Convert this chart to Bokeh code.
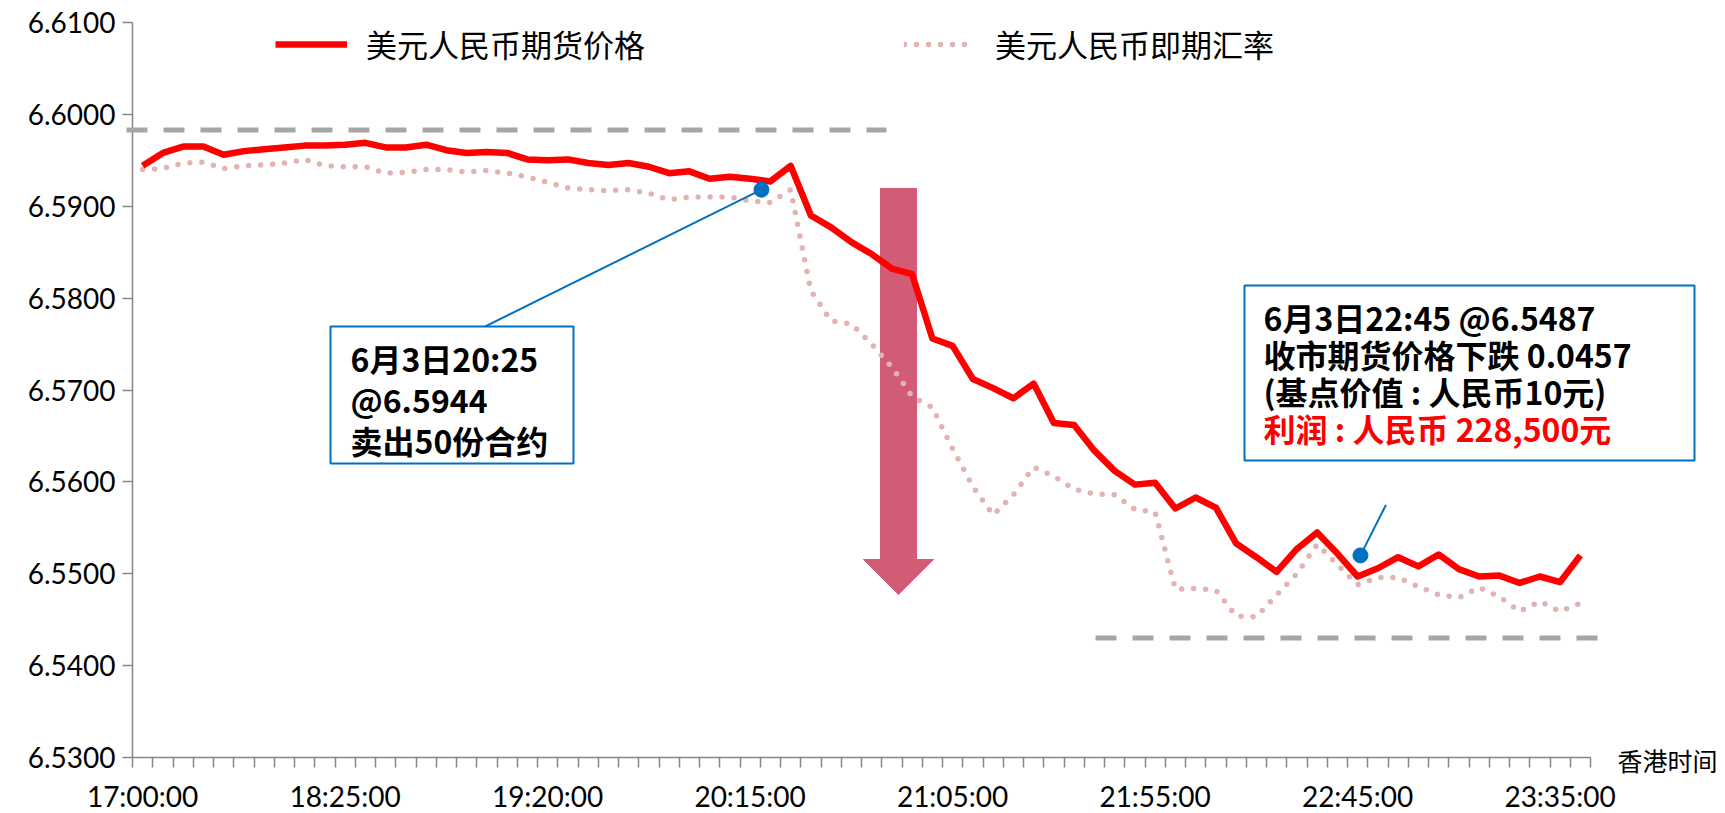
from bokeh.plotting import figure
from bokeh.models import (FixedTicker, Legend, LegendItem, Arrow,
                          ColumnDataSource, NumeralTickFormatter)
from bokeh.core.properties import value
from bokeh.embed import file_html
from bokeh.resources import INLINE

# ---------------- data ----------------
tick_positions = [0, 10, 20, 30, 40, 50, 60, 70]
tick_labels = ["17:00:00", "18:25:00", "19:20:00", "20:15:00",
               "21:05:00", "21:55:00", "22:45:00", "23:35:00"]

futures = [6.5944, 6.5958, 6.5965, 6.5965, 6.5956, 6.5960, 6.5962, 6.5964,
           6.5966, 6.5966, 6.5967, 6.5969, 6.5964, 6.5964, 6.5967, 6.5961,
           6.5958, 6.5959, 6.5958, 6.5951, 6.5950, 6.5951, 6.5947, 6.5945,
           6.5947, 6.5943, 6.5936, 6.5938, 6.5930, 6.5932, 6.5930, 6.5927,
           6.5944, 6.5890, 6.5877, 6.5861, 6.5848, 6.5832, 6.5826, 6.5756,
           6.5748, 6.5712, 6.5702, 6.5691, 6.5707, 6.5664, 6.5662, 6.5634,
           6.5612, 6.5597, 6.5599, 6.5571, 6.5583, 6.5572, 6.5533, 6.5518,
           6.5502, 6.5527, 6.5545, 6.5522, 6.5497, 6.5506, 6.5518, 6.5508,
           6.5521, 6.5505, 6.5497, 6.5498, 6.5490, 6.5497, 6.5491, 6.5520]

spot = [6.5940, 6.5941, 6.5947, 6.5948, 6.5941, 6.5944, 6.5945, 6.5947,
        6.5951, 6.5944, 6.5943, 6.5943, 6.5936, 6.5937, 6.5940, 6.5940,
        6.5937, 6.5939, 6.5936, 6.5932, 6.5926, 6.5920, 6.5918, 6.5917,
        6.5918, 6.5914, 6.5907, 6.5910, 6.5910, 6.5910, 6.5906, 6.5904,
        6.5918, 6.5808, 6.5775, 6.5772, 6.5750, 6.5725, 6.5693, 6.5681,
        6.5636, 6.5595, 6.5564, 6.5586, 6.5616, 6.5606, 6.5592, 6.5587,
        6.5586, 6.5570, 6.5567, 6.5483, 6.5484, 6.5482, 6.5454, 6.5453,
        6.5477, 6.5500, 6.5532, 6.5510, 6.5488, 6.5496, 6.5496, 6.5486,
        6.5477, 6.5474, 6.5485, 6.5475, 6.5459, 6.5470, 6.5459, 6.5468]

y_ticks = [6.53, 6.54, 6.55, 6.56, 6.57, 6.58, 6.59, 6.60, 6.61]
y_tick_labels = ["6.5300", "6.5400", "6.5500", "6.5600", "6.5700",
                 "6.5800", "6.5900", "6.6000", "6.6100"]

series_names = ["美元人民币期货价格", "美元人民币即期汇率"]

# reference levels (dashed lines)
high_level = 6.5983
low_level = 6.5430

# callouts: (category position, price) of marker and of line end
sell_point = (30.56, 6.5918)
sell_line_end = (16.9, 6.5769)
close_point = (60.14, 6.5520)
close_line_end = (61.4, 6.5575)

box1_lines = ["6月3日20:25", "@6.5944", "卖出50份合约"]
box2_lines = ["6月3日22:45 @6.5487", "收市期货价格下跌 0.0457", "(基点价值 : 人民币10元)"]
box2_red = "利润 : 人民币 228,500元"
x_unit_label = "香港时间"

# ---------------- layout helpers (pixel geometry of the reference) ----------------
N = len(futures)
Y0, Y1 = 6.53, 6.61
CAT_PX = 20.25          # pixels per category
PX_PER_UNIT = 9187.5    # pixels per 1.0 of price
LEFT = 132              # x pixel of the value axis
TOP = 22                # y pixel of 6.61
WIDTH = 1720
HEIGHT = 813


def X(px):  # page px -> category coordinate
    return -0.5 + (px - LEFT) / CAT_PX


def Y(py):  # page px -> price coordinate
    return Y1 - (py - TOP) / PX_PER_UNIT


LATIN = "Lato"
CJK = "'Noto Sans CJK SC', sans-serif"

p = figure(frame_width=WIDTH, frame_height=HEIGHT,
           x_range=(X(0), X(WIDTH)), y_range=(Y(HEIGHT), Y(0)),
           output_backend="svg", toolbar_location=None,
           min_border_left=0, min_border_right=0,
           min_border_top=0, min_border_bottom=0)
p.outline_line_color = None
p.grid.visible = False
p.background_fill_color = "white"
p.border_fill_color = "white"

# y axis (value axis, fixed at the first category edge)
yax = p.yaxis[0]
yax.fixed_location = -0.5
yax.ticker = FixedTicker(ticks=y_ticks)
yax.formatter = NumeralTickFormatter(format="0.0000")
yax.major_label_overrides = {t: l for t, l in zip(y_ticks, y_tick_labels)}
yax.bounds = (Y0, Y1)
yax.axis_line_color = "#868686"
yax.axis_line_width = 1.5
yax.major_tick_line_color = "#868686"
yax.major_tick_line_width = 1.5
yax.major_tick_out = 10
yax.major_tick_in = 0
yax.minor_tick_out = 0
yax.minor_tick_in = 0
yax.major_label_standoff = 7
yax.major_label_text_font = LATIN
yax.major_label_text_font_size = "28px"
yax.major_label_text_color = "#000000"

# x axis (category axis, fixed at the bottom of the value range)
xax = p.xaxis[0]
xax.fixed_location = Y0
xax.ticker = FixedTicker(ticks=tick_positions,
                         minor_ticks=[i - 0.5 for i in range(N + 1)])
xax.major_label_overrides = dict(zip(tick_positions, tick_labels))
xax.bounds = (-0.5, N - 0.5)
xax.axis_line_color = "#868686"
xax.axis_line_width = 1.5
xax.major_tick_out = 0
xax.major_tick_in = 0
xax.minor_tick_out = 10
xax.minor_tick_in = 0
xax.minor_tick_line_color = "#868686"
xax.minor_tick_line_width = 1.5
xax.major_label_standoff = 11
xax.major_label_text_font = LATIN
xax.major_label_text_font_size = "28px"
xax.major_label_text_color = "#000000"

# dashed reference levels
for lvl, xs, xe in [(high_level, X(126), X(886)), (low_level, X(1095), X(1600))]:
    p.add_layout(Arrow(end=None, x_start=xs, x_end=xe, y_start=lvl, y_end=lvl,
                       line_color="#A6A6A6", line_width=5, line_dash="21 16"))

# big down arrow
cx = X(898)
sw = 18 / CAT_PX
hw = 35 / CAT_PX
p.patch([cx - sw, cx + sw, cx + sw, cx + hw, cx, cx - hw, cx - sw],
        [Y(188), Y(188), Y(559), Y(559), Y(594), Y(559), Y(559)],
        fill_color="#D25B75", line_color="#D25B75", line_width=1)

# series
src = ColumnDataSource(dict(x=list(range(N)), futures=futures, spot=spot))
r_spot = p.line("x", "spot", source=src, line_color="#E3B3B2", line_width=5.5,
                line_dash="0 12", line_cap="round")
r_fut = p.line("x", "futures", source=src, line_color="#FF0000", line_width=6.5,
               line_join="round")

# callout lines and markers
for pt, end in [(sell_point, sell_line_end), (close_point, close_line_end)]:
    p.line([pt[0], end[0]], [pt[1], end[1]], line_color="#0070C0", line_width=2)
p.scatter([sell_point[0], close_point[0]], [sell_point[1], close_point[1]],
          size=15, fill_color="#0070C0", line_color="#0070C0")

# text boxes
p.quad(left=[X(330), X(1244)], right=[X(573), X(1694)],
       top=[Y(326), Y(285)], bottom=[Y(463), Y(460)],
       fill_color="white", line_color="#0070C0", line_width=2)

p.text(x=[X(350)] * 3, y=[Y(357), Y(398), Y(439)], text=box1_lines,
       text_font=value(CJK), text_font_size="32px", text_font_style="bold",
       text_baseline="middle", text_align="left", text_color="#000000")
p.text(x=[X(1263)] * 3, y=[Y(316), Y(353), Y(390)], text=box2_lines,
       text_font=value(CJK), text_font_size="32px", text_font_style="bold",
       text_baseline="middle", text_align="left", text_color="#000000")
p.text(x=[X(1263)], y=[Y(427)], text=[box2_red],
       text_font=value(CJK), text_font_size="32px", text_font_style="bold",
       text_baseline="middle", text_align="left", text_color="#FF0000")

p.text(x=[X(1617)], y=[Y(759)], text=[x_unit_label],
       text_font=value(CJK), text_font_size="25px",
       text_baseline="middle", text_align="left", text_color="#000000")

legend = Legend(items=[LegendItem(label=series_names[0], renderers=[r_fut]),
                       LegendItem(label=series_names[1], renderers=[r_spot])],
                orientation="horizontal", location=(275, HEIGHT - 66),
                glyph_width=72, glyph_height=40, label_height=40,
                label_standoff=19, spacing=259, padding=0, margin=0,
                border_line_color=None, background_fill_alpha=0,
                label_text_font=CJK, label_text_font_size="31px",
                label_text_color="#000000")
p.add_layout(legend)

open("out.html", "w").write(file_html(p, INLINE))
